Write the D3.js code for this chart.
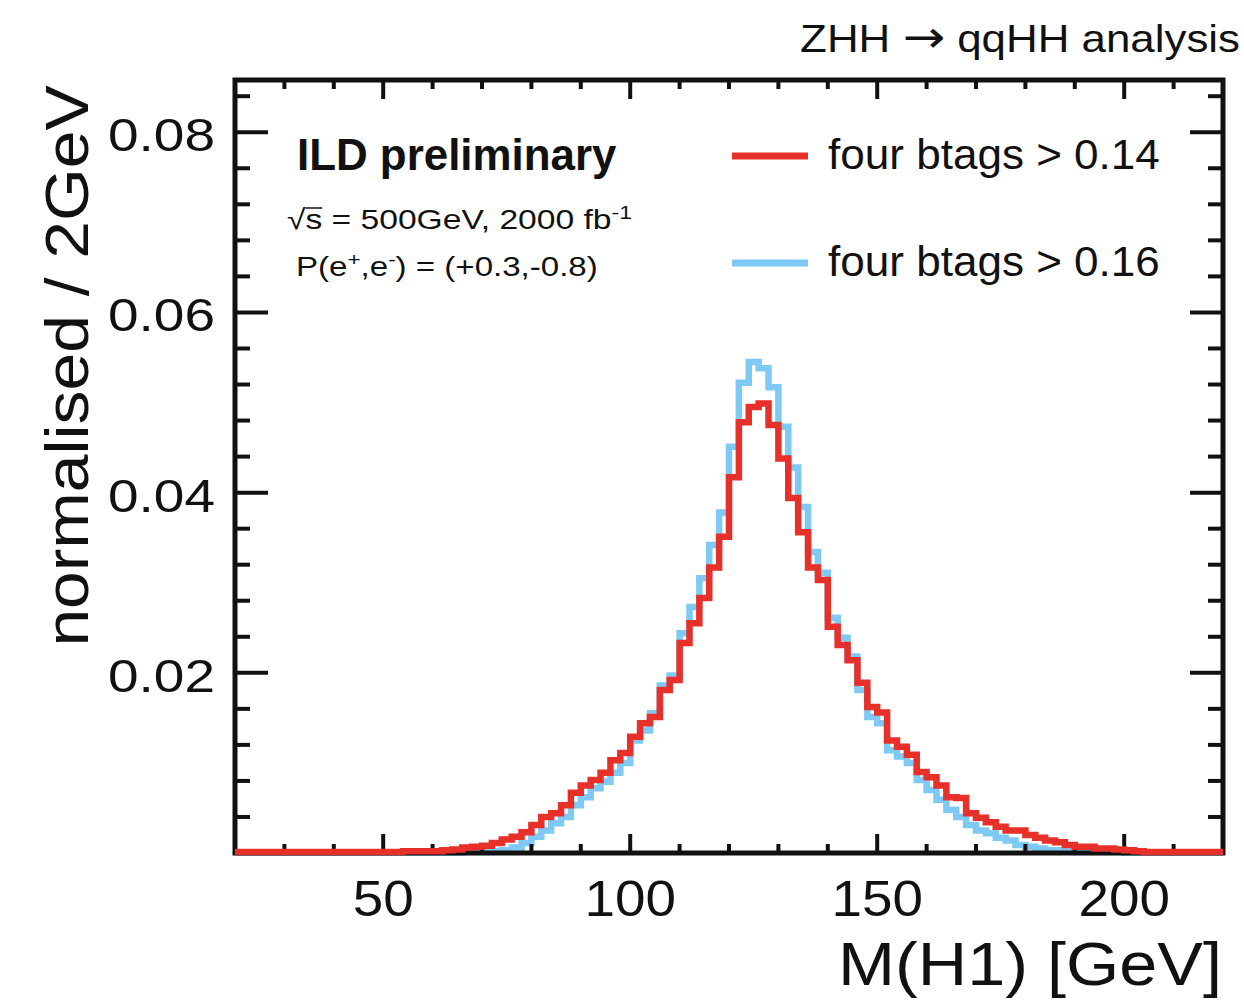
<!DOCTYPE html>
<html>
<head>
<meta charset="utf-8">
<script src="https://cdn.jsdelivr.net/npm/d3@7"></script>
<style>
  html, body { margin: 0; padding: 0; background: #fff; }
  svg { display: block; }
  text { font-family: "Liberation Sans", Arial, Helvetica, sans-serif; fill: #111; }
</style>
</head>
<body>
<svg id="chart" width="1244" height="1007"></svg>
<script>
// ---------------- data ----------------
// bin lower edges (2 GeV bins from 20 to 220 GeV)
const binEdges = d3.range(20, 220, 2);
const xRange = [20, 220];
const yMax = 0.0858;

// four btags > 0.14 (red)
const redValues = [
  0.0001, 0.0001, 0.0001, 0.0001, 0.0001, 0.0001, 0.0001, 0.0001, 0.0001, 0.0001, // 20-38
  0.0001, 0.0001, 0.0001, 0.0001, 0.0001, 0.0001, 0.0001, 0.0002, 0.0002, 0.0002, // 40-58
  0.0002, 0.0003, 0.0004, 0.0006, 0.0007, 0.0008, 0.0011, 0.0015, 0.0018, 0.0023, // 60-78
  0.0031, 0.0040, 0.0044, 0.0053, 0.0067, 0.0075, 0.0081, 0.0089, 0.0103, 0.0111, // 80-98
  0.0129, 0.0144, 0.0151, 0.0181, 0.0192, 0.0233, 0.0255, 0.0283, 0.0317, 0.0351, // 100-118
  0.0417, 0.0478, 0.0495, 0.0499, 0.0475, 0.0438, 0.0394, 0.0356, 0.0317, 0.0303, // 120-138
  0.0251, 0.0231, 0.0214, 0.0189, 0.0162, 0.0156, 0.0125, 0.0118, 0.0109, 0.0090, // 140-158
  0.0084, 0.0075, 0.0062, 0.0061, 0.0044, 0.0039, 0.0034, 0.0029, 0.0025, 0.0025, // 160-178
  0.0020, 0.0017, 0.0014, 0.0012, 0.0009, 0.0007, 0.0007, 0.0005, 0.0005, 0.0004, // 180-198
  0.0003, 0.0002, 0.0001, 0.0001, 0.0001, 0.0001, 0.0001, 0.0001, 0.0001, 0.0001  // 200-218
];

// four btags > 0.16 (blue)
const blueValues = [
  0.0000, 0.0000, 0.0000, 0.0000, 0.0000, 0.0000, 0.0000, 0.0000, 0.0000, 0.0000, // 20-38
  0.0000, 0.0000, 0.0000, 0.0000, 0.0000, 0.0000, 0.0000, 0.0000, 0.0000, 0.0000, // 40-58
  0.0000, 0.0000, 0.0000, 0.0001, 0.0001, 0.0001, 0.0002, 0.0003, 0.0006, 0.0011, // 60-78
  0.0018, 0.0025, 0.0033, 0.0040, 0.0053, 0.0062, 0.0072, 0.0079, 0.0089, 0.0100, // 80-98
  0.0125, 0.0136, 0.0155, 0.0186, 0.0197, 0.0244, 0.0273, 0.0305, 0.0342, 0.0378, // 100-118
  0.0451, 0.0522, 0.0545, 0.0538, 0.0517, 0.0473, 0.0428, 0.0384, 0.0334, 0.0311, // 120-138
  0.0261, 0.0239, 0.0218, 0.0181, 0.0151, 0.0144, 0.0114, 0.0107, 0.0100, 0.0081, // 140-158
  0.0070, 0.0059, 0.0048, 0.0040, 0.0031, 0.0025, 0.0022, 0.0017, 0.0014, 0.0009, // 160-178
  0.0007, 0.0005, 0.0003, 0.0003, 0.0002, 0.0001, 0.0001, 0.0001, 0.0001, 0.0001, // 180-198
  0.0000, 0.0000, 0.0000, 0.0000, 0.0000, 0.0000, 0.0000, 0.0000, 0.0000, 0.0000  // 200-218
];

const xMajorTicks = [50, 100, 150, 200];
const xTickLabels = ["50", "100", "150", "200"];
const xMinorTicks = [30, 40, 60, 70, 80, 90, 110, 120, 130, 140, 160, 170, 180, 190, 210, 220];
const yMajorTicks = [0.02, 0.04, 0.06, 0.08];
const yTickLabels = ["0.02", "0.04", "0.06", "0.08"];
const yMinorTicks = [0.004, 0.008, 0.012, 0.016, 0.024, 0.028, 0.032, 0.036, 0.044, 0.048, 0.052, 0.056, 0.064, 0.068, 0.072, 0.076, 0.084];

const seriesNames = ["four btags > 0.14", "four btags > 0.16"];
const seriesColors = ["#e8302a", "#7ecaf4"];

// ---------------- layout ----------------
const L = 235, R = 1223, T = 80, B = 853;
const svg = d3.select("#chart");
const x = d3.scaleLinear().domain(xRange).range([L, R]);
const y = d3.scaleLinear().domain([0, yMax]).range([B, T]);
const histWidth = 6.5;

// helper: text that is stretched to a target width
function fitText(g, str, opts) {
  const grp = g.append("g").attr("transform", opts.transform);
  const t = grp.append("text")
    .attr("text-anchor", opts.anchor || "start")
    .style("font-size", opts.size + "px")
    .style("font-weight", opts.weight || "normal");
  if (typeof str === "function") str(t); else t.text(str);
  if (opts.width) {
    const w = t.node().getBBox().width;
    t.attr("transform", `scale(${opts.width / w},1)`);
  }
  return t;
}

// clip
svg.append("clipPath").attr("id", "frameClip")
  .append("rect").attr("x", L).attr("y", T - 3).attr("width", R - L).attr("height", B - T + 6);

// histograms
function histPath(values) {
  const pts = binEdges.map((e, i) => [x(e), y(values[i])]);
  pts.push([x(xRange[1]), y(values[values.length - 1])]);
  return d3.line().curve(d3.curveStepAfter)(pts);
}

const plot = svg.append("g").attr("clip-path", "url(#frameClip)");
plot.append("path")
  .attr("d", histPath(blueValues))
  .attr("fill", "none")
  .attr("stroke", seriesColors[1])
  .attr("stroke-width", histWidth);

// axes ticks (drawn inward)
const axG = svg.append("g");
function ticksX(yPos, vals, len, dir) {
  axG.append("g").selectAll("line").data(vals).join("line")
    .attr("x1", d => x(d)).attr("x2", d => x(d))
    .attr("y1", yPos).attr("y2", yPos + dir * len)
    .attr("stroke", "#111").attr("stroke-width", 4);
}
function ticksY(xPos, vals, len, dir) {
  axG.append("g").selectAll("line").data(vals).join("line")
    .attr("y1", d => y(d)).attr("y2", d => y(d))
    .attr("x1", xPos).attr("x2", xPos + dir * len)
    .attr("stroke", "#111").attr("stroke-width", 4);
}
ticksX(B, xMajorTicks, 19, -1);
ticksX(B, xMinorTicks, 9, -1);
ticksX(T, xMajorTicks, 19, 1);
ticksX(T, xMinorTicks, 9, 1);
ticksY(L, yMajorTicks, 33, 1);
ticksY(L, yMinorTicks, 15, 1);
ticksY(R, yMajorTicks, 33, -1);
ticksY(R, yMinorTicks, 15, -1);

// frame
svg.append("rect").attr("x", L).attr("y", T).attr("width", R - L).attr("height", B - T)
  .attr("fill", "none").attr("stroke", "#111").attr("stroke-width", 5);

// red histogram drawn over the frame
svg.append("g").attr("clip-path", "url(#frameClip)")
  .append("path").attr("d", histPath(redValues))
  .attr("fill", "none").attr("stroke", seriesColors[0]).attr("stroke-width", histWidth);

// tick labels
xMajorTicks.forEach((v, i) => {
  fitText(svg, xTickLabels[i], { transform: `translate(${x(v)},916)`, anchor: "middle", size: 50, width: xTickLabels[i].length * 30.5 });
});
yMajorTicks.forEach((v, i) => {
  fitText(svg, yTickLabels[i], { transform: `translate(215,${y(v) + 19})`, anchor: "end", size: 47, width: 107 });
});

// axis titles
fitText(svg, "M(H1) [GeV]", { transform: "translate(1222,985)", anchor: "end", size: 62, width: 384 });
fitText(svg, "normalised / 2GeV", { transform: "translate(88,366) rotate(-90)", anchor: "middle", size: 62, width: 562 });

// top-right title
fitText(svg, t => {
  t.append("tspan").text("ZHH ");
  t.append("tspan").style("font-family", "'DejaVu Sans'").style("font-size", "44px").text("\u2192");
  t.append("tspan").text(" qqHH analysis");
}, { transform: "translate(1240,52)", anchor: "end", size: 38, width: 440 });

// ILD labels
fitText(svg, "ILD preliminary", { transform: "translate(297,170)", size: 44, weight: "bold", width: 320 });
const sq = fitText(svg, t => {
  t.append("tspan").text("\u221As");
  t.append("tspan").text(" = 500GeV, 2000 fb");
  t.append("tspan").attr("dy", -10).style("font-size", "19px").text("-1");
}, { transform: "translate(287,229)", size: 28, width: 345 });
// overline over "s" of sqrt
{
  const n = sq.node();
  const b = n.getExtentOfChar(1);
  d3.select(n.parentNode).append("line")
    .attr("x1", b.x).attr("x2", b.x + b.width)
    .attr("y1", -21).attr("y2", -21)
    .attr("transform", sq.attr("transform"))
    .attr("stroke", "#111").attr("stroke-width", 1.5);
}
fitText(svg, t => {
  t.append("tspan").text("P(e");
  t.append("tspan").attr("dy", -10).style("font-size", "19px").text("+");
  t.append("tspan").attr("dy", 10).text(",e");
  t.append("tspan").attr("dy", -10).style("font-size", "19px").text("-");
  t.append("tspan").attr("dy", 10).text(") = (+0.3,-0.8)");
}, { transform: "translate(296,276)", size: 28, width: 302 });

// legend
const legY = [156, 263];
seriesNames.forEach((name, i) => {
  svg.append("line").attr("x1", 732).attr("x2", 808).attr("y1", legY[i]).attr("y2", legY[i])
    .attr("stroke", seriesColors[i]).attr("stroke-width", 7);
  fitText(svg, name, { transform: `translate(828,${legY[i] + 13})`, size: 42, width: 332 });
});
</script>
</body>
</html>
